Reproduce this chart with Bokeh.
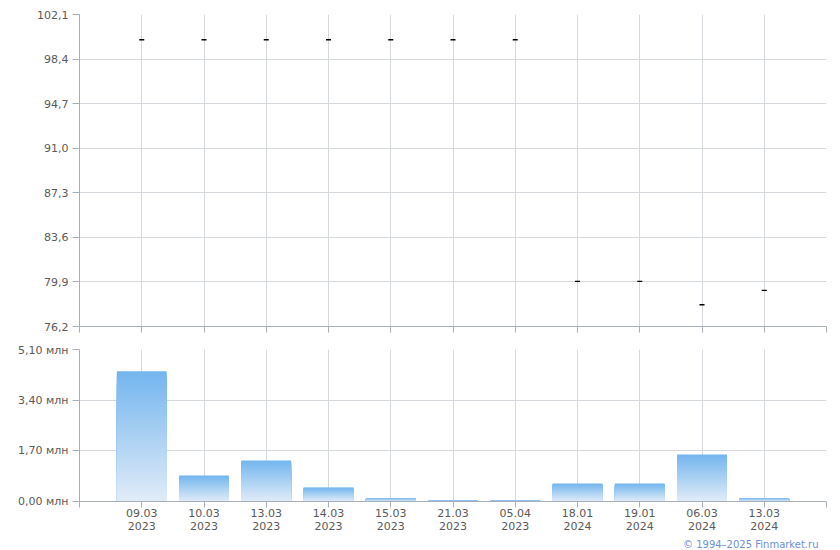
from bokeh.plotting import figure
from bokeh.layouts import column
from bokeh.models import FixedTicker, Range1d, Title
from bokeh.embed import file_html
from bokeh.resources import INLINE

dates = ["09.03\n2023", "10.03\n2023", "13.03\n2023", "14.03\n2023", "15.03\n2023",
         "21.03\n2023", "05.04\n2023", "18.01\n2024", "19.01\n2024", "06.03\n2024", "13.03\n2024"]
prices = [100.0, 100.0, 100.0, 100.0, 100.0, 100.0, 100.0, 79.95, 79.95, 78.0, 79.2]
volumes = [4.37, 0.87, 1.375, 0.47, 0.10, 0.03, 0.03, 0.60, 0.60, 1.58, 0.10]  # млн
price_ticks = [76.2, 79.9, 83.6, 87.3, 91.0, 94.7, 98.4, 102.1]
vol_ticks = [0.0, 1.7, 3.4, 5.1]

FONT = "DejaVu Sans"
TXT = "#5a5a5a"
GRID = "#d5d9de"
AXIS = "#a9afb8"
xs = list(range(1, len(dates) + 1))
x_ticks = list(range(0, len(dates) + 2))


def style(p):
    p.outline_line_color = None
    p.background_fill_color = "white"
    p.border_fill_color = "white"
    for ax in (p.xaxis[0], p.yaxis[0]):
        ax.axis_line_color = AXIS
        ax.major_tick_line_color = AXIS
        ax.major_tick_in = 0
        ax.major_tick_out = 7
        ax.minor_tick_line_color = None
        ax.major_label_text_font = FONT
        ax.major_label_text_font_size = "11px"
        ax.major_label_text_color = TXT
        ax.major_label_standoff = 4
    p.xaxis.major_tick_out = 6
    p.xaxis.major_label_standoff = -1
    p.xaxis.major_label_text_line_height = 1.05
    p.xgrid.grid_line_color = GRID
    p.ygrid.grid_line_color = GRID
    p.xaxis.ticker = FixedTicker(ticks=x_ticks)


LEFT = 79
RIGHT = 6

top = figure(frame_width=747, frame_height=312, output_backend="svg", toolbar_location=None,
             x_range=Range1d(0, len(dates) + 1), y_range=Range1d(price_ticks[0], price_ticks[-1]),
             min_border_left=LEFT, min_border_right=RIGHT, min_border_top=14, min_border_bottom=17)
style(top)
top.yaxis.ticker = FixedTicker(ticks=price_ticks)
top.yaxis.major_label_overrides = {t: f"{t:.1f}".replace(".", ",") for t in price_ticks}
top.xaxis.major_label_overrides = {t: "" for t in x_ticks}
top.xaxis.major_label_text_font_size = "0px"
top.dash(x=xs, y=prices, size=5, line_color="black", line_width=1.4, angle=0)

bot = figure(frame_width=747, frame_height=152, output_backend="svg", toolbar_location=None,
             x_range=Range1d(0, len(dates) + 1), y_range=Range1d(vol_ticks[0], vol_ticks[-1]),
             min_border_left=LEFT, min_border_right=RIGHT, min_border_top=6, min_border_bottom=0)
style(bot)
bot.yaxis.ticker = FixedTicker(ticks=vol_ticks)
bot.yaxis.major_label_overrides = {t: f"{t:.2f}".replace(".", ",") + " млн" for t in vol_ticks}
labels = {0: "", len(dates) + 1: ""}
labels.update({x: d for x, d in zip(xs, dates)})
bot.xaxis.major_label_overrides = labels

# vertical gradient bars: overlapping shorter bars with paler colours
c_top = (0x74, 0xb6, 0xee)
c_bot = (0xe0, 0xeb, 0xf8)
N = 40
for k in range(N):
    t = k / (N - 1)
    col = "#%02x%02x%02x" % tuple(int(round(a + (b - a) * t)) for a, b in zip(c_top, c_bot))
    frac = 1 - k / N
    bot.vbar(x=xs, top=[v * frac for v in volumes], bottom=0, width=0.8,
             fill_color=col, line_color=None)

bot.add_layout(Title(text="© 1994–2025 Finmarket.ru", align="right", text_color="#6d8fd9",
                     text_font=FONT, text_font_size="10px", text_font_style="normal",
                     offset=8, standoff=1), "below")

layout = column(top, bot, spacing=0)
open("out.html", "w").write(file_html(layout, INLINE))
